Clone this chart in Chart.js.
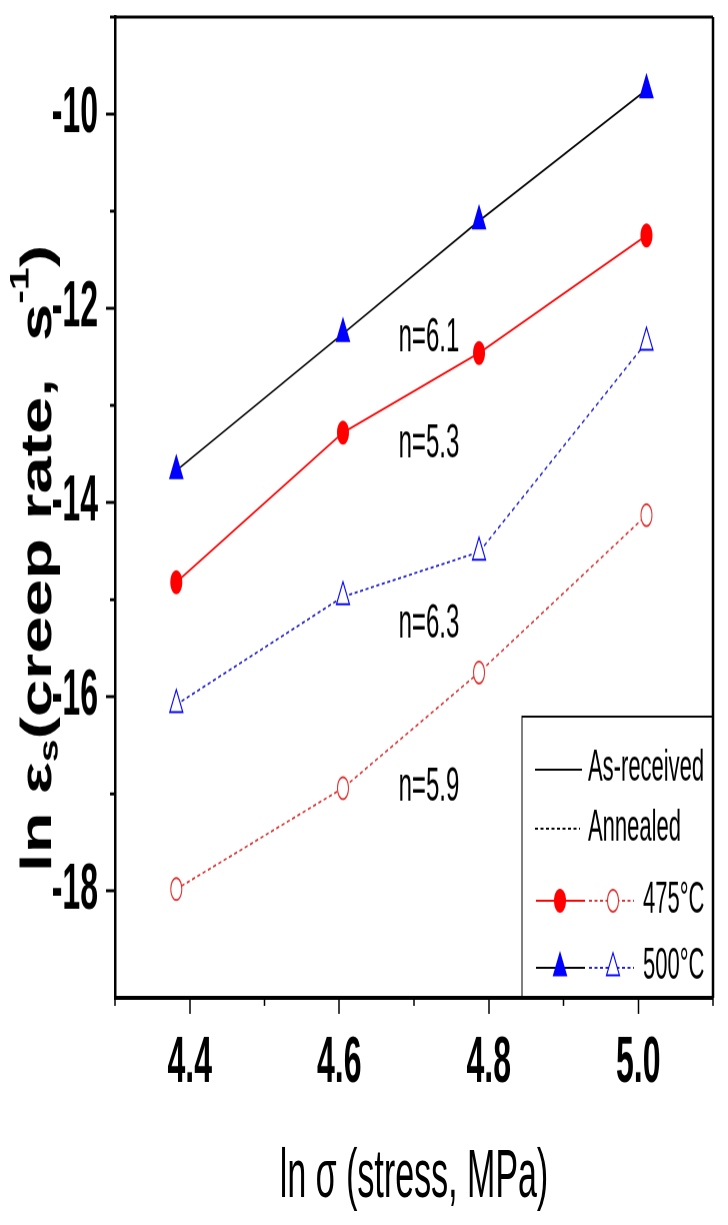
<!doctype html>
<html>

<head>
    <title>Creep rate vs stress</title>
    <script src="https://cdn.jsdelivr.net/npm/chart.js"></script>
    <style>
        html, body { margin: 0; background: #fff; }
        #creep { display: block; }
    </style>
</head>

<body>
    <canvas id="creep" width="728" height="612"></canvas>

    <script>
        // ln(stress) for 80, 100, 120, 150 MPa
        var lnStress = [4.382, 4.605, 4.787, 5.011];
        var asReceived500 = [-13.67, -12.26, -11.10, -9.75];
        var asReceived475 = [-14.82, -13.28, -12.46, -11.25];
        var annealed500 = [-16.08, -14.97, -14.51, -12.35];
        var annealed475 = [-17.98, -16.94, -15.75, -14.13];

        var xMajor = [4.4, 4.6, 4.8, 5.0];
        var xMinor = [4.3, 4.5, 4.7, 4.9, 5.1];
        var yMajor = [-10, -12, -14, -16, -18];
        var yMinor = [-9, -11, -13, -15, -17];

        var notes = [
            { text: 'n=6.1', x: 4.72, y: -12.31 },
            { text: 'n=5.3', x: 4.72, y: -13.4 },
            { text: 'n=6.3', x: 4.72, y: -15.25 },
            { text: 'n=5.9', x: 4.72, y: -16.93 }
        ];

        var FONT = "'Liberation Sans', Arial, sans-serif";
        Chart.defaults.font.family = FONT;
        Chart.defaults.color = '#000';

        function pts(ys) {
            return lnStress.map((x, i) => ({ x: x, y: ys[i] }));
        }

        var minorTicksAndFrame = {
            id: 'minorTicksAndFrame',
            afterDraw(chart) {
                var ctx = chart.ctx, a = chart.chartArea;
                var x = chart.scales.x, y = chart.scales.y;
                ctx.save();
                ctx.strokeStyle = '#000';
                ctx.lineWidth = 1.5;
                ctx.beginPath();
                xMinor.forEach(v => {
                    var px = x.getPixelForValue(v);
                    ctx.moveTo(px, a.bottom);
                    ctx.lineTo(px, a.bottom + 4);
                });
                yMinor.forEach(v => {
                    var py = y.getPixelForValue(v);
                    ctx.moveTo(a.left - 5, py);
                    ctx.lineTo(a.left, py);
                });
                ctx.stroke();
                // top and right edges of the box
                ctx.beginPath();
                ctx.lineWidth = 1.5;
                ctx.moveTo(a.left, a.top);
                ctx.lineTo(a.right, a.top);
                ctx.stroke();
                ctx.beginPath();
                ctx.lineWidth = 2.5;
                ctx.moveTo(a.right, a.top);
                ctx.lineTo(a.right, a.bottom);
                ctx.stroke();
                ctx.restore();
            }
        };

        var notesPlugin = {
            id: 'notes',
            afterDatasetsDraw(chart) {
                var ctx = chart.ctx;
                ctx.save();
                ctx.font = '24px ' + FONT;
                ctx.fillStyle = '#000';
                ctx.textAlign = 'center';
                ctx.textBaseline = 'middle';
                notes.forEach(n => {
                    ctx.fillText(n.text, chart.scales.x.getPixelForValue(n.x), chart.scales.y.getPixelForValue(n.y));
                });
                ctx.restore();
            }
        };

        // y axis title with subscript and superscript
        var yTitle = {
            id: 'yTitle',
            afterDraw(chart) {
                var ctx = chart.ctx;
                var big = 'bold 44px ' + FONT, small = 'bold 27px ' + FONT;
                var parts = [
                    { t: 'ln \u03b5', f: big, dy: 0 },
                    { t: 's', f: small, dy: 11 },
                    { t: '(creep rate,  s', f: big, dy: 0 },
                    { t: '-1', f: small, dy: -18 },
                    { t: ')', f: big, dy: 0 }
                ];
                var total = 0;
                parts.forEach(p => { ctx.font = p.f; p.w = ctx.measureText(p.t).width; total += p.w; });
                ctx.save();
                ctx.translate(39, 279);
                ctx.scale(1, 0.76);
                ctx.rotate(-Math.PI / 2);
                ctx.fillStyle = '#000';
                ctx.textBaseline = 'middle';
                var cx = -total / 2;
                parts.forEach(p => {
                    ctx.font = p.f;
                    ctx.fillText(p.t, cx, p.dy);
                    cx += p.w;
                });
                ctx.restore();
            }
        };

        var legendBox = {
            id: 'legendBox',
            afterDraw(chart) {
                var ctx = chart.ctx, a = chart.chartArea;
                var draw = Chart.helpers.drawPoint;
                ctx.save();
                ctx.strokeStyle = '#000';
                ctx.lineWidth = 1;
                ctx.strokeRect(522, 358, a.right - 522, a.bottom - 358);

                function seg(x1, x2, y, color, dash) {
                    ctx.save();
                    ctx.strokeStyle = color;
                    ctx.lineWidth = 1;
                    ctx.setLineDash(dash || []);
                    ctx.beginPath();
                    ctx.moveTo(x1, y);
                    ctx.lineTo(x2, y);
                    ctx.stroke();
                    ctx.restore();
                }
                function mark(style, r, x, y, fill, stroke) {
                    ctx.save();
                    ctx.fillStyle = fill;
                    ctx.strokeStyle = stroke;
                    ctx.lineWidth = 1;
                    draw(ctx, { pointStyle: style, radius: r, rotation: 0, borderWidth: 1 }, x, y);
                    ctx.restore();
                }

                seg(535, 582, 384.5, '#000');
                seg(535, 580, 414, '#000', [3, 2.5]);
                seg(536, 585, 450, '#ff0000');
                mark('circle', 5.5, 560, 450, '#ff0000', '#ff0000');
                seg(589, 634, 450, '#e03030', [3, 2.5]);
                mark('circle', 5.5, 613, 450, '#ffffff', '#e03030');
                seg(536, 585, 483.5, '#000');
                mark('triangle', 7.5, 560, 483.5, '#0000ff', '#0000ff');
                seg(589, 634, 483.5, '#2020d0', [3, 2.5]);
                mark('triangle', 7.5, 613, 483.5, '#ffffff', '#0000ff');

                ctx.fillStyle = '#000';
                ctx.font = '22px ' + FONT;
                ctx.textBaseline = 'middle';
                ctx.fillText('As-received', 588, 384);
                ctx.fillText('Annealed', 588, 414);
                ctx.fillText('475\u00b0C', 643, 450);
                ctx.fillText('500\u00b0C', 643, 483);
                ctx.restore();
            }
        };

        var creep = new Chart(document.getElementById('creep').getContext('2d'), {
            type: 'scatter',
            data: {
                datasets: [{
                    label: 'As-received 500',
                    data: pts(asReceived500),
                    showLine: true,
                    borderColor: '#000',
                    borderWidth: 1,
                    pointStyle: 'triangle',
                    pointRadius: 7.5,
                    pointBackgroundColor: '#0000ff',
                    pointBorderColor: '#0000ff',
                    pointBorderWidth: 1
                }, {
                    label: 'As-received 475',
                    data: pts(asReceived475),
                    showLine: true,
                    borderColor: '#ff0000',
                    borderWidth: 1,
                    pointStyle: 'circle',
                    pointRadius: 5.5,
                    pointBackgroundColor: '#ff0000',
                    pointBorderColor: '#ff0000',
                    pointBorderWidth: 1
                }, {
                    label: 'Annealed 500',
                    data: pts(annealed500),
                    showLine: true,
                    borderColor: '#2020d0',
                    borderWidth: 1,
                    borderDash: [3, 2.5],
                    pointStyle: 'triangle',
                    pointRadius: 7.5,
                    pointBackgroundColor: '#ffffff',
                    pointBorderColor: '#0000ff',
                    pointBorderWidth: 1
                }, {
                    label: 'Annealed 475',
                    data: pts(annealed475),
                    showLine: true,
                    borderColor: '#e03030',
                    borderWidth: 1,
                    borderDash: [3, 2.5],
                    pointStyle: 'circle',
                    pointRadius: 5.5,
                    pointBackgroundColor: '#ffffff',
                    pointBorderColor: '#e03030',
                    pointBorderWidth: 1
                }]
            },
            options: {
                responsive: false,
                animation: false,
                devicePixelRatio: 2,
                events: [],
                layout: { padding: { top: 8.5, right: 15, left: 0, bottom: 0 } },
                plugins: {
                    legend: { display: false },
                    tooltip: { enabled: false }
                },
                scales: {
                    x: {
                        type: 'linear',
                        min: 4.3,
                        max: 5.1,
                        afterBuildTicks: s => { s.ticks = xMajor.map(v => ({ value: v })); },
                        afterFit: s => {
                            s.height = 612 - 498.5;
                            s.paddingLeft = 0;
                            s.paddingRight = 0;
                        },
                        ticks: {
                            font: { size: 32, weight: 'bold' },
                            padding: 6,
                            callback: v => v.toFixed(1)
                        },
                        grid: { drawOnChartArea: false, tickLength: 8, tickWidth: 1.5, tickColor: '#000' },
                        border: { color: '#000', width: 2 },
                        title: {
                            display: true,
                            text: 'ln \u03c3 (stress, MPa)',
                            font: { size: 34 },
                            padding: { top: 0, bottom: 3 }
                        }
                    },
                    y: {
                        type: 'linear',
                        min: -19.1,
                        max: -9,
                        afterBuildTicks: s => { s.ticks = yMajor.map(v => ({ value: v })); },
                        afterFit: s => {
                            s.width = 115;
                            s.paddingTop = 0;
                            s.paddingBottom = 0;
                        },
                        ticks: {
                            font: { size: 32, weight: 'bold' },
                            padding: 8
                        },
                        grid: { drawOnChartArea: false, tickLength: 9, tickWidth: 1.5, tickColor: '#000' },
                        border: { color: '#000', width: 2.5 }
                    }
                }
            },
            plugins: [minorTicksAndFrame, notesPlugin, yTitle, legendBox]
        });

        // the original figure is stretched vertically: show the 612px tall canvas at 1225px
        var cv = document.getElementById('creep');
        cv.style.width = '728px';
        cv.style.height = '1225px';
    </script>
</body>

</html>
